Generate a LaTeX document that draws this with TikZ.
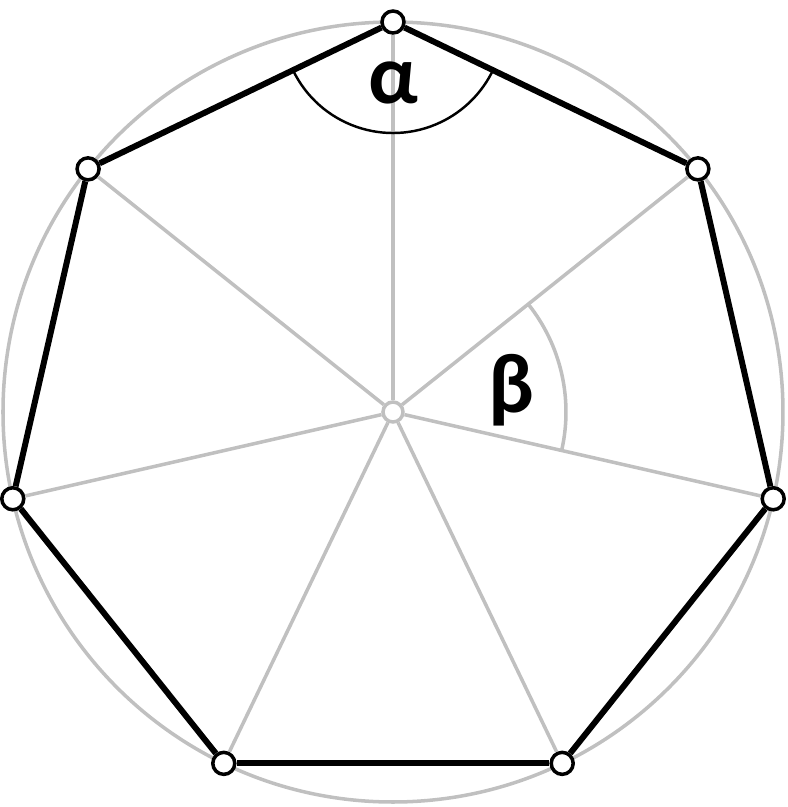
\documentclass[tikz,border=0pt]{standalone}
\usepackage{fontspec}
\setmainfont{Carlito}
\usetikzlibrary{shapes}
\definecolor{spokegray}{RGB}{192,192,192}
\tikzset{
  vertex/.style={shape=circle,draw=black,fill=white,inner sep=0pt,minimum size=0.22cm,line width=1pt},
  hub/.style={shape=circle,draw=spokegray,fill=white,inner sep=0pt,minimum size=0.2cm,line width=1pt},
  side/.style={-,draw=black,line width=1.7pt},
  spoke/.style={-,draw=spokegray,line width=1pt},
  angtext/.style={font=\fontsize{24}{28}\selectfont\bfseries}
}

\begin{document}
\begin{tikzpicture}
\useasboundingbox (-3.93,-3.95) rectangle (3.95,4.12);
\draw[spokegray,line width=1pt] (0,0) circle (3.9);

\node[hub] (c) at (0,0) {};
\node[vertex] (0) at (90:3.9) {};
\node[vertex] (1) at (38.571:3.9) {};
\node[vertex] (2) at (-12.857:3.9) {};
\node[vertex] (3) at (-64.286:3.9) {};
\node[vertex] (4) at (-115.714:3.9) {};
\node[vertex] (5) at (-167.143:3.9) {};
\node[vertex] (6) at (141.429:3.9) {};

\path [spoke] (c) edge node {} (0);
\path [spoke] (c) edge node {} (1);
\path [spoke] (c) edge node {} (2);
\path [spoke] (c) edge node {} (3);
\path [spoke] (c) edge node {} (4);
\path [spoke] (c) edge node {} (5);
\path [spoke] (c) edge node {} (6);

\draw[black,line width=0.7pt] (0.center) ++(205.714:1.11) arc[start angle=205.714,end angle=334.286,radius=1.11];
\draw[spokegray,line width=1pt] (c.center) ++(-12.857:1.73) arc[start angle=-12.857,end angle=38.571,radius=1.73];

\path [side] (0) edge node {} (1);
\path [side] (1) edge node {} (2);
\path [side] (2) edge node {} (3);
\path [side] (3) edge node {} (4);
\path [side] (4) edge node {} (5);
\path [side] (5) edge node {} (6);
\path [side] (6) edge node {} (0);

\node[angtext] (alpha) at (0,3.29) {α};
\node[angtext] (beta) at (1.19,0.22) {β};
\end{tikzpicture}
\end{document}
